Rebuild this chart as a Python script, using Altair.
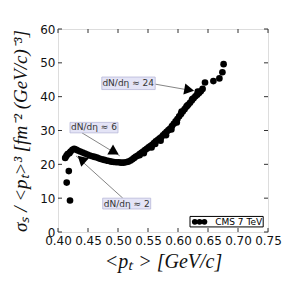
import altair as alt
import pandas as pd

# data
pt_x = [0.420, 0.4145, 0.418, 0.412, 0.414, 0.416, 0.419, 0.421, 0.424, 0.427, 0.430, 0.433,
        0.437, 0.441, 0.445, 0.449, 0.453, 0.457, 0.461, 0.465, 0.469, 0.473, 0.477, 0.481,
        0.485, 0.489, 0.493, 0.497, 0.501, 0.505, 0.509, 0.513, 0.517, 0.521, 0.524, 0.527,
        0.530, 0.533, 0.536, 0.539, 0.542, 0.545, 0.548, 0.551, 0.554, 0.557, 0.560, 0.563,
        0.566, 0.569, 0.572, 0.575, 0.578, 0.581, 0.584, 0.587, 0.590, 0.593, 0.596, 0.599,
        0.602, 0.605, 0.608, 0.611, 0.614, 0.617, 0.620, 0.623, 0.626, 0.629, 0.632, 0.635,
        0.638, 0.641, 0.645, 0.659, 0.669, 0.674, 0.676,
        0.556, 0.562, 0.571, 0.580, 0.589, 0.598, 0.606, 0.615, 0.624, 0.633, 0.543, 0.536]
pt_y = [9.3, 14.6, 18.0, 21.9, 22.5, 23.0, 23.3, 23.8, 24.3, 24.6, 24.4, 24.1,
        23.8, 23.5, 23.2, 22.9, 22.6, 22.4, 22.2, 22.0, 21.7, 21.5, 21.3, 21.1,
        21.0, 20.8, 20.7, 20.6, 20.6, 20.5, 20.5, 20.6, 20.8, 21.1, 21.5, 21.9,
        22.3, 22.6, 23.0, 23.4, 23.8, 24.2, 24.6, 25.0, 25.4, 25.8, 26.3, 26.8,
        27.2, 27.6, 28.0, 28.6, 29.1, 29.6, 30.1, 30.6, 31.3, 32.0, 32.7, 33.4,
        34.2, 34.9, 35.6, 36.3, 37.0, 37.6, 38.2, 38.9, 39.5, 40.1, 40.6, 41.1,
        41.6, 42.3, 44.2, 44.6, 45.4, 47.2, 49.6,
        25.0, 26.0, 27.0, 28.6, 30.3, 32.4, 35.6, 37.3, 39.3, 41.5, 23.3, 22.7]

x_ticks = [0.40, 0.45, 0.50, 0.55, 0.60, 0.65, 0.70, 0.75]
y_ticks = [0, 10, 20, 30, 40, 50, 60]

ann_text = ["dN/dη ≈ 24", "dN/dη ≈ 6", "dN/dη ≈ 2"]
ann_x = [0.517, 0.460, 0.5145]
ann_y = [44.0, 30.9, 8.4]
box_x1 = [0.473, 0.420, 0.4745]
box_x2 = [0.562, 0.500, 0.5545]
box_y1 = [42.1, 29.3, 6.8]
box_y2 = [45.8, 32.4, 10.0]
arr_x1 = [0.562, 0.440, 0.508]
arr_y1 = [43.7, 29.3, 10.0]
arr_x2 = [0.623, 0.503, 0.430]
arr_y2 = [41.8, 22.5, 22.5]
head_x = [0.616, 0.4917, 0.441]
head_y = [42.1, 23.9, 21.2]
head_ang = [100, 120, 312]

leg_label = "CMS 7 TeV"
leg_box = dict(x1=0.620, x2=0.742, y1=1.5, y2=4.6)
leg_pts_x = [0.628, 0.636, 0.644]
leg_pts_y = [3.0, 3.0, 3.0]
leg_text_x = 0.662
leg_text_y = 3.0

W, H = 210, 203
xs = alt.Scale(domain=[0.40, 0.75], nice=False, zero=False)
ys = alt.Scale(domain=[0, 60], nice=False, zero=False)

pts = pd.DataFrame({"x": pt_x, "y": pt_y})
ann = pd.DataFrame({"t": ann_text, "x": ann_x, "y": ann_y, "bx1": box_x1, "bx2": box_x2,
                    "by1": box_y1, "by2": box_y2, "ax1": arr_x1, "ay1": arr_y1,
                    "ax2": arr_x2, "ay2": arr_y2, "hx": head_x, "hy": head_y, "ang": head_ang})

xaxis = alt.Axis(values=x_ticks, format=".2f", title="<pₜ > [GeV/c]", grid=False,
                 labelFont="DejaVu Sans", labelFontSize=12, labelColor="#111",
                 titleFont="Liberation Serif", titleFontStyle="italic", titleFontWeight="normal",
                 titleFontSize=20, titleColor="#111", tickSize=0, labelPadding=3, titlePadding=5,
                 domain=False, labelFlush=False, labelOverlap=False)
yaxis = alt.Axis(values=y_ticks, title="σₛ / <pₜ>³    [fm⁻² (GeV/c)⁻³]", grid=False,
                 labelFont="DejaVu Sans", labelFontSize=12, labelColor="#111",
                 titleFont="Liberation Serif", titleFontStyle="italic", titleFontWeight="normal",
                 titleFontSize=19, titleColor="#111", tickSize=0, labelPadding=3, titlePadding=9,
                 domain=False, labelFlush=False, labelOverlap=False)


def X(f):
    return alt.X(f, scale=xs, axis=xaxis)


def Y(f):
    return alt.Y(f, scale=ys, axis=yaxis)


scatter = alt.Chart(pts).mark_circle(size=44, color="black", opacity=1).encode(x=X("x:Q"), y=Y("y:Q"))

tx = pd.DataFrame({"v": x_ticks})
ty = pd.DataFrame({"v": y_ticks})
tick_top = alt.Chart(tx).mark_rule(color="#333").encode(x=X("v:Q"), y=alt.value(0), y2=alt.value(4))
tick_bot = alt.Chart(tx).mark_rule(color="#333").encode(x=X("v:Q"), y=alt.value(H - 4), y2=alt.value(H))
tick_left = alt.Chart(ty).mark_rule(color="#333").encode(y=Y("v:Q"), x=alt.value(0), x2=alt.value(4))
tick_right = alt.Chart(ty).mark_rule(color="#333").encode(y=Y("v:Q"), x=alt.value(W - 4), x2=alt.value(W))

boxes = alt.Chart(ann).mark_rect(fill="#e4e4f6", stroke="#b8b8d8", strokeWidth=0.8).encode(
    x=X("bx1:Q"), x2="bx2:Q", y=Y("by1:Q"), y2="by2:Q")
texts = alt.Chart(ann).mark_text(font="DejaVu Sans", fontSize=9, color="#333").encode(
    x=X("x:Q"), y=Y("y:Q"), text="t:N")
lines = alt.Chart(ann).mark_rule(color="#666", strokeWidth=0.8).encode(
    x=X("ax1:Q"), y=Y("ay1:Q"), x2="ax2:Q", y2="ay2:Q")
heads = alt.Chart(ann).mark_point(shape="triangle", filled=True, color="black", size=130, opacity=1).encode(
    x=X("hx:Q"), y=Y("hy:Q"), angle=alt.Angle("ang:Q", scale=None))

lb = pd.DataFrame([leg_box])
leg_rect = alt.Chart(lb).mark_rect(fill="white", stroke="black", strokeWidth=1).encode(
    x=X("x1:Q"), x2="x2:Q", y=Y("y1:Q"), y2="y2:Q")
leg_pts = alt.Chart(pd.DataFrame({"x": leg_pts_x, "y": leg_pts_y})).mark_circle(
    size=34, color="black", opacity=1).encode(x=X("x:Q"), y=Y("y:Q"))
leg_txt = alt.Chart(pd.DataFrame({"x": [leg_text_x], "y": [leg_text_y], "t": [leg_label]})).mark_text(
    font="DejaVu Sans", fontSize=9, color="black", align="left").encode(
    x=X("x:Q"), y=Y("y:Q"), text="t:N")

chart = alt.layer(scatter, tick_top, tick_bot, tick_left, tick_right, lines, boxes, texts, heads,
                  leg_rect, leg_pts, leg_txt).properties(
    width=W, height=H, autosize=alt.AutoSizeParams(type="none"),
    padding={"left": 50, "top": 21, "right": 15, "bottom": 46}
).configure_view(stroke="#333", strokeWidth=1.5).configure_axis(labelOverlap=False).configure(background="white")

chart.save("out.html", embed_options={"renderer": "svg", "actions": False})
